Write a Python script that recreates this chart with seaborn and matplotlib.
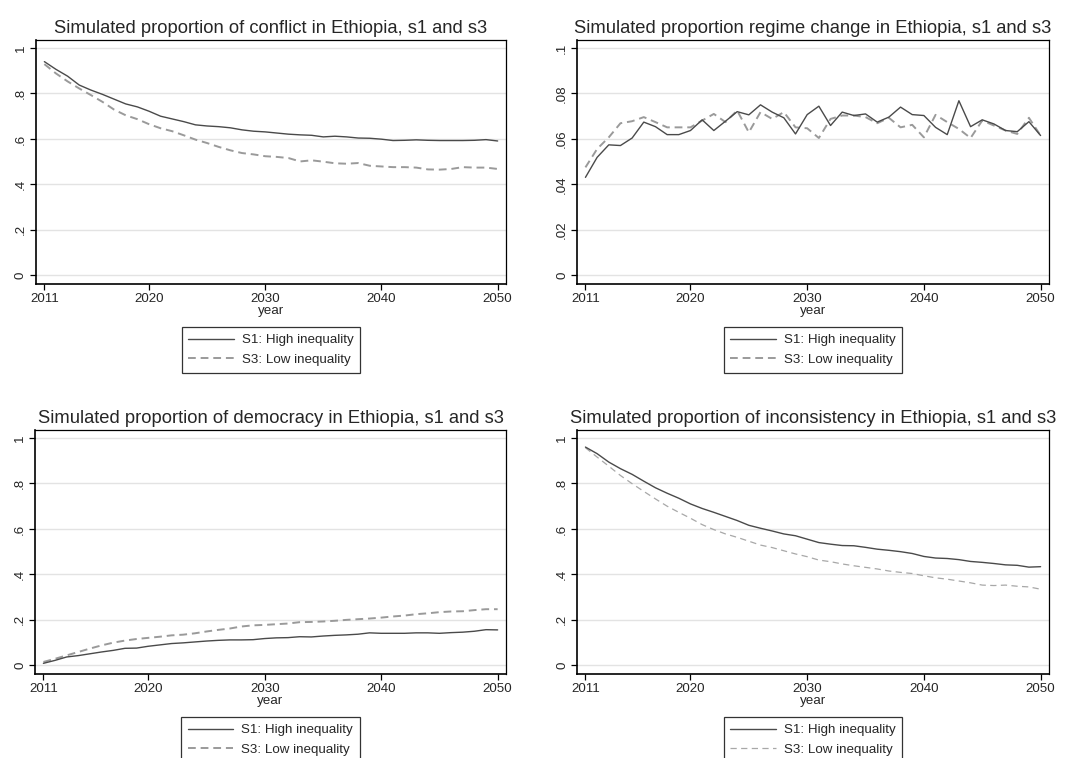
import numpy as np
import pandas as pd
import matplotlib
matplotlib.use("Agg")
import matplotlib.pyplot as plt
from matplotlib.lines import Line2D
import seaborn as sns

years = list(range(2011, 2051))

conflict_s1 = [0.940, 0.906, 0.876, 0.837, 0.815, 0.796, 0.775, 0.754, 0.741, 0.722,
               0.700, 0.688, 0.676, 0.662, 0.657, 0.654, 0.649, 0.640, 0.634, 0.631,
               0.626, 0.621, 0.618, 0.616, 0.609, 0.612, 0.609, 0.604, 0.603, 0.599,
               0.593, 0.594, 0.596, 0.594, 0.593, 0.593, 0.593, 0.594, 0.597, 0.591]
conflict_s3 = [0.929, 0.888, 0.853, 0.822, 0.793, 0.763, 0.729, 0.704, 0.687, 0.665,
               0.647, 0.634, 0.616, 0.597, 0.582, 0.565, 0.550, 0.538, 0.532, 0.524,
               0.521, 0.516, 0.501, 0.506, 0.500, 0.493, 0.491, 0.494, 0.482, 0.479,
               0.476, 0.476, 0.474, 0.466, 0.465, 0.468, 0.476, 0.474, 0.474, 0.468]

regime_s1 = [0.0431, 0.0519, 0.0574, 0.0571, 0.0604, 0.0674, 0.0654, 0.0619, 0.0619, 0.0637,
             0.0684, 0.0637, 0.0678, 0.0720, 0.0706, 0.0750, 0.0718, 0.0693, 0.0622, 0.0707,
             0.0744, 0.0659, 0.0718, 0.0703, 0.0710, 0.0674, 0.0696, 0.0740, 0.0707, 0.0703,
             0.0651, 0.0619, 0.0768, 0.0654, 0.0684, 0.0666, 0.0637, 0.0632, 0.0676, 0.0615]
regime_s3 = [0.0475, 0.0556, 0.0607, 0.0669, 0.0678, 0.0696, 0.0674, 0.0651, 0.0651, 0.0651,
             0.0681, 0.0710, 0.0674, 0.0725, 0.0629, 0.0718, 0.0688, 0.0718, 0.0651, 0.0647,
             0.0604, 0.0688, 0.0703, 0.0703, 0.0696, 0.0669, 0.0693, 0.0651, 0.0662, 0.0607,
             0.0706, 0.0674, 0.0644, 0.0604, 0.0681, 0.0659, 0.0637, 0.0622, 0.0693, 0.0615]

democracy_s1 = [0.009, 0.022, 0.037, 0.043, 0.051, 0.059, 0.066, 0.075, 0.076, 0.084,
                0.090, 0.096, 0.099, 0.103, 0.107, 0.110, 0.112, 0.112, 0.113, 0.118,
                0.121, 0.122, 0.126, 0.125, 0.129, 0.132, 0.134, 0.137, 0.143, 0.141,
                0.141, 0.141, 0.143, 0.143, 0.141, 0.144, 0.146, 0.150, 0.157, 0.156]
democracy_s3 = [0.015, 0.029, 0.044, 0.059, 0.074, 0.088, 0.100, 0.109, 0.116, 0.121,
                0.126, 0.132, 0.135, 0.141, 0.149, 0.156, 0.162, 0.171, 0.176, 0.178,
                0.181, 0.184, 0.190, 0.191, 0.193, 0.196, 0.200, 0.203, 0.206, 0.210,
                0.215, 0.219, 0.225, 0.229, 0.234, 0.237, 0.238, 0.243, 0.247, 0.247]

inconsistency_s1 = [0.960, 0.931, 0.894, 0.865, 0.840, 0.810, 0.781, 0.757, 0.735, 0.710,
                    0.690, 0.673, 0.655, 0.637, 0.616, 0.603, 0.591, 0.578, 0.570, 0.555,
                    0.540, 0.533, 0.527, 0.526, 0.519, 0.511, 0.506, 0.500, 0.492, 0.479,
                    0.472, 0.470, 0.465, 0.457, 0.453, 0.448, 0.442, 0.440, 0.432, 0.434]
inconsistency_s3 = [0.957, 0.916, 0.876, 0.835, 0.799, 0.765, 0.732, 0.700, 0.673, 0.647,
                    0.619, 0.597, 0.578, 0.563, 0.546, 0.529, 0.518, 0.504, 0.490, 0.478,
                    0.463, 0.456, 0.446, 0.438, 0.431, 0.424, 0.415, 0.409, 0.404, 0.394,
                    0.385, 0.379, 0.371, 0.363, 0.353, 0.351, 0.353, 0.348, 0.345, 0.335]

titles = [
    "Simulated proportion of conflict in Ethiopia, s1 and s3",
    "Simulated proportion regime change in Ethiopia, s1 and s3",
    "Simulated proportion of democracy in Ethiopia, s1 and s3",
    "Simulated proportion of inconsistency in Ethiopia, s1 and s3",
]
series_labels = ["S1: High inequality", "S3: Low inequality"]
x_ticks = [2011, 2020, 2030, 2040, 2050]
unit_ticks = [0, 0.2, 0.4, 0.6, 0.8, 1.0]
unit_tick_labels = ["0", ".2", ".4", ".6", ".8", "1"]
regime_ticks = [0, 0.02, 0.04, 0.06, 0.08, 0.1]
regime_tick_labels = ["0", ".02", ".04", ".06", ".08", ".1"]

sns.set_theme(style="white")
plt.rcParams["font.family"] = ["Liberation Sans", "DejaVu Sans"]

S1_COLOR = "#4a4a4a"
S3_COLOR = "#9a9a9a"
GRID = "#e3e3e3"
TICK_FS = 9.6
TITLE_FS = 13.2

fig = plt.figure(figsize=(10.68, 7.58), dpi=100)
fig.patch.set_facecolor("white")

# axes rectangles in figure fractions
rects = [
    [0.0337, 0.6253, 0.4401, 0.3219],
    [0.5403, 0.6253, 0.4419, 0.3219],
    [0.0328, 0.1108, 0.4410, 0.3219],
    [0.5403, 0.1108, 0.4419, 0.3219],
]

panels = [
    (conflict_s1, conflict_s3, unit_ticks, unit_tick_labels, "wide"),
    (regime_s1, regime_s3, regime_ticks, regime_tick_labels, "wide"),
    (democracy_s1, democracy_s3, unit_ticks, unit_tick_labels, "wide"),
    (inconsistency_s1, inconsistency_s3, unit_ticks, unit_tick_labels, "fine"),
]

for rect, title, (s1, s3, yt, ytl, dash_kind) in zip(rects, titles, panels):
    ax = fig.add_axes(rect)
    df = pd.DataFrame({"year": years, "s1": s1, "s3": s3})
    if dash_kind == "wide":
        dash = (4, 2.5)
        s3_lw = 1.4
        s3_col = S3_COLOR
    else:
        dash = (5, 3.5)
        s3_lw = 0.9
        s3_col = "#a8a8a8"

    for yv in yt:
        ax.axhline(yv, color=GRID, lw=1.0, zorder=0)

    sns.lineplot(data=df, x="year", y="s1", ax=ax, color=S1_COLOR, lw=1.0,
                 zorder=3)
    sns.lineplot(data=df, x="year", y="s3", ax=ax, color=s3_col, lw=s3_lw,
                 zorder=2).lines[-1].set_dashes(dash)

    top = yt[-1]
    ax.set_xlim(2011 - 0.72, 2050 + 0.72)
    ax.set_ylim(-0.038 * top, 1.035 * top)
    ax.set_xticks(x_ticks)
    ax.set_xticklabels([str(t) for t in x_ticks], fontsize=TICK_FS)
    ax.set_yticks(yt)
    ax.set_yticklabels(ytl, fontsize=TICK_FS, rotation=90, va="center")
    ax.tick_params(axis="both", which="major", direction="out", length=4.5,
                   width=0.9, color="black", pad=2, left=True, bottom=True)
    ax.set_xlabel("year", fontsize=TICK_FS, labelpad=0)
    ax.set_ylabel("")
    ax.grid(False)
    for side, sp in ax.spines.items():
        sp.set_visible(True)
        sp.set_color("black")
        sp.set_linewidth(1.2 if side in ("left", "bottom") else 0.9)
    ax.set_title(title, fontsize=TITLE_FS, pad=5)

    handles = [
        Line2D([], [], color=S1_COLOR, lw=1.0),
        Line2D([], [], color=s3_col, lw=s3_lw, dashes=dash),
    ]
    leg = ax.legend(handles, series_labels, loc="upper center",
                    bbox_to_anchor=(0.5, -0.178), ncol=1, fontsize=TICK_FS,
                    frameon=True, fancybox=False, edgecolor="black",
                    handlelength=3.4, handletextpad=0.6, borderpad=0.5,
                    labelspacing=0.55, borderaxespad=0)
    leg.get_frame().set_linewidth(0.9)

fig.savefig("out.png", dpi=100, facecolor="white")
